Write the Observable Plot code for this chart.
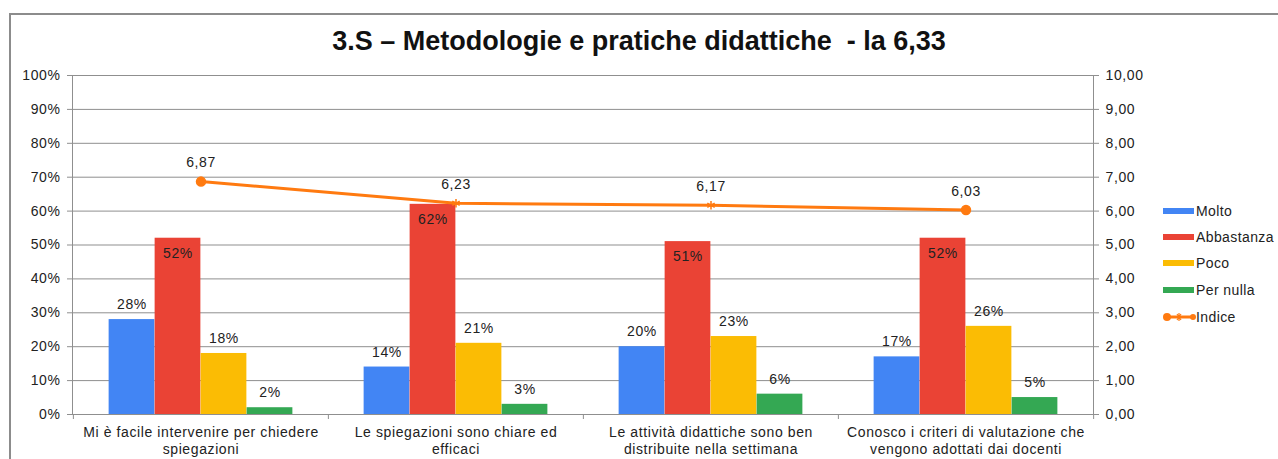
<!DOCTYPE html>
<html><head><meta charset="utf-8">
<script src="https://cdn.jsdelivr.net/npm/d3@7"></script>
<script src="https://cdn.jsdelivr.net/npm/@observablehq/plot@0.6"></script>
<style>
body{margin:0;background:#fff;font-family:"Liberation Sans",Arial,sans-serif;}
#wrap{position:relative;width:1278px;height:459px;overflow:hidden;background:#fff;}
#border{position:absolute;left:9px;top:13px;width:1400px;height:600px;border-left:2px solid #8c8c8c;border-top:2px solid #8c8c8c;}
#chart{position:absolute;left:0;top:0;}
#title{position:absolute;left:0;width:1278px;top:26px;text-align:center;font-weight:bold;font-size:27px;color:#111;white-space:pre;}
#legend{position:absolute;left:1163px;top:0;font-size:14px;letter-spacing:0.4px;color:#222;}
.row{position:absolute;left:0;height:14px;display:flex;align-items:center;white-space:nowrap;}
.sw{width:31px;height:6px;margin-right:2px;}
</style></head><body>
<div id="wrap"><div id="border"></div><div id="chart"></div><div id="title"></div><div id="legend"></div></div>
<script>
const title = "3.S – Metodologie e pratiche didattiche  - la 6,33";
const categories = [
  "Mi è facile intervenire per chiedere spiegazioni",
  "Le spiegazioni sono chiare ed efficaci",
  "Le attività didattiche sono ben distribuite nella settimana",
  "Conosco i criteri di valutazione che vengono adottati dai docenti"
];
const tickLabels = [
  "Mi è facile intervenire per chiedere\nspiegazioni",
  "Le spiegazioni sono chiare ed\nefficaci",
  "Le attività didattiche sono ben\ndistribuite nella settimana",
  "Conosco i criteri di valutazione che\nvengono adottati dai docenti"
];
const seriesNames = ["Molto", "Abbastanza", "Poco", "Per nulla"];
const molto = [28, 14, 20, 17];
const abbastanza = [52, 62, 51, 52];
const poco = [18, 21, 23, 26];
const perNulla = [2, 3, 6, 5];
const indiceName = "Indice";
const indice = [6.87, 6.23, 6.17, 6.03];
const percentTicks = [0, 10, 20, 30, 40, 50, 60, 70, 80, 90, 100];

const colors = ["#4285F4", "#EA4335", "#FBBC04", "#34A853"];
const indiceColor = "#FF7A10";
const textColor = "#222";
const gridColor = "#8f8f8f";

const W = 1278, H = 459, ML = 72, MR = 185, MT = 75, MB = 45;
const bw = (W - ML - MR) / categories.length;
const barW = 46;
const gap = (bw - seriesNames.length * barW) / 2;
const FS = 14;

const values = [molto, abbastanza, poco, perNulla];
const bars = [];
values.forEach((arr, k) => arr.forEach((v, i) => bars.push({cat: categories[i], series: seriesNames[k], k, value: v})));
const idx = indice.map((v, i) => ({cat: categories[i], v, i}));
const fmtIdx = v => v.toFixed(2).replace(".", ",");

const marks = [
  Plot.gridY(percentTicks, {stroke: gridColor, strokeOpacity: 1}),
];
seriesNames.forEach((s, k) => {
  const data = bars.filter(d => d.k === k);
  marks.push(Plot.barY(data, {
    x: "cat", y: "value", fill: colors[k],
    insetLeft: gap + k * barW, insetRight: bw - gap - (k + 1) * barW
  }));
  marks.push(Plot.text(data, {
    x: "cat", y: "value", text: d => d.value + "%",
    dx: gap + (k + 0.5) * barW - bw / 2, dy: k === 1 ? 15 : -15,
    fill: textColor, fontSize: FS
  }));
});
marks.push(
  Plot.frame({stroke: gridColor}),
  Plot.ruleX(categories, {x: d => d, y1: 0, y2: 0, insetBottom: -5, dx: -bw / 2, stroke: gridColor}),
  Plot.ruleX(categories.slice(-1), {x: d => d, y1: 0, y2: 0, insetBottom: -5, dx: bw / 2, stroke: gridColor}),
  Plot.line(idx, {x: "cat", y: d => d.v * 10, stroke: indiceColor, strokeWidth: 3}),
  Plot.dot(idx, {filter: d => d.i === 0 || d.i === idx.length - 1, x: "cat", y: d => d.v * 10, r: 4.5, fill: indiceColor, stroke: indiceColor}),
  Plot.dot(idx, {filter: d => d.i > 0 && d.i < idx.length - 1, x: "cat", y: d => d.v * 10, r: 4, symbol: "asterisk", stroke: indiceColor, strokeWidth: 1.5}),
  Plot.text(idx, {x: "cat", y: d => d.v * 10, text: d => fmtIdx(d.v), dy: -19, fill: textColor, fontSize: FS}),
  Plot.axisY({anchor: "left", ticks: percentTicks, tickFormat: d => d + "%", tickSize: 5, tickPadding: 7, fontSize: FS, fill: textColor, stroke: gridColor, label: null}),
  Plot.axisY({anchor: "right", ticks: percentTicks, tickFormat: d => fmtIdx(d / 10), tickSize: 5, tickPadding: 7, fontSize: FS, fill: textColor, stroke: gridColor, label: null}),
  Plot.axisX({tickSize: 0, tickPadding: 10, tickFormat: (d, i) => tickLabels[categories.indexOf(d)], fontSize: FS, lineHeight: 1.22, fill: textColor, label: null})
);

const chart = Plot.plot({
  width: W, height: H,
  marginLeft: ML, marginRight: MR, marginTop: MT, marginBottom: MB,
  x: {type: "band", domain: categories, padding: 0},
  y: {domain: [0, 100]},
  style: {fontFamily: "'Liberation Sans', Arial, sans-serif", fontSize: "14px", letterSpacing: "0.6px", background: "transparent", overflow: "visible"},
  marks
});
document.getElementById("chart").appendChild(chart);
document.getElementById("title").textContent = title;

const legend = document.getElementById("legend");
const rowsY = [211, 237, 263, 290, 317];
seriesNames.forEach((s, k) => {
  const r = document.createElement("div");
  r.className = "row"; r.style.top = (rowsY[k] - 7) + "px";
  r.innerHTML = `<div class="sw" style="background:${colors[k]}"></div><span>${s}</span>`;
  legend.appendChild(r);
});
const r = document.createElement("div");
r.className = "row"; r.style.top = (rowsY[4] - 7) + "px";
r.innerHTML = `<svg width="33" height="12" style="margin-right:0px"><line x1="3" y1="6" x2="31" y2="6" stroke="${indiceColor}" stroke-width="3"/><circle cx="4" cy="6" r="4" fill="${indiceColor}"/><circle cx="30" cy="6" r="3" fill="${indiceColor}"/><path d="M14,3L18,9M18,3L14,9M16,2V10" stroke="${indiceColor}" stroke-width="1.2"/></svg><span>${indiceName}</span>`;
legend.appendChild(r);
</script>
</body></html>
